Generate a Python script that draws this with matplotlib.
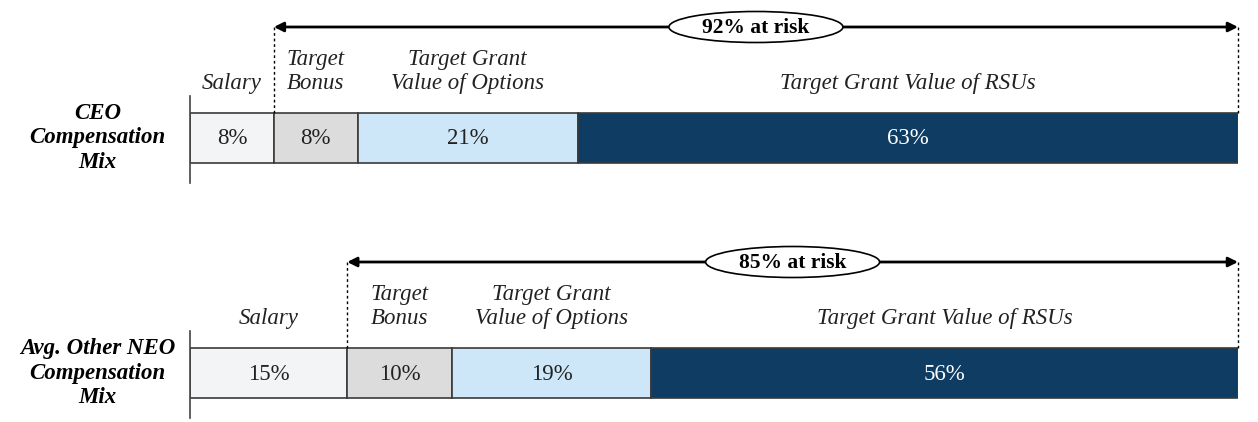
import numpy as np
import matplotlib.pyplot as plt
from matplotlib.patches import Ellipse

plt.rcParams['font.family'] = ['Liberation Serif', 'DejaVu Serif']

# data
rows = ['CEO\nCompensation\nMix', 'Avg. Other NEO\nCompensation\nMix']
components = ['Salary', 'Target\nBonus', 'Target Grant\nValue of Options', 'Target Grant Value of RSUs']
ceo_mix = [8, 8, 21, 63]
neo_mix = [15, 10, 19, 56]
at_risk = [92, 85]

colors = ['#f3f4f6', '#dcdcdd', '#cde7f8', '#0f3c63']
text_colors = ['#222222', '#222222', '#222222', 'white']

fig = plt.figure(figsize=(12.58, 4.22), dpi=100)
ax = fig.add_axes([190 / 1258, 0, 1048 / 1258, 1])
ax.set_xlim(0, 100)
ax.set_ylim(422, 0)  # pixel-like vertical layout
ax.axis('off')

bar_y = [138, 373]
bar_h = 50

for r, vals in enumerate([ceo_mix, neo_mix]):
    y = bar_y[r]
    lefts = np.concatenate([[0], np.cumsum(vals)[:-1]])
    ax.barh(y, vals, left=lefts, height=bar_h, color=colors,
            edgecolor='#3a3a3a', linewidth=1.2)
    for i, v in enumerate(vals):
        cx = lefts[i] + v / 2
        ax.text(cx, y + 1, f'{v}%', ha='center', va='center',
                fontsize=16.5, color=text_colors[i])
        ax.text(cx, y - bar_h / 2 - 19, components[i], ha='center', va='bottom',
                fontsize=16.5, style='italic', color='#222222', linespacing=1.2)
    # axis line on the left
    ax.plot([0, 0], [y - 42, y + 45], color='#444444', lw=1.2, clip_on=False)
    # row label
    ax.text(-8.8, y, rows[r], ha='center', va='center', fontsize=16.5,
            fontweight='bold', style='italic', linespacing=1.2)

    # at risk arrow
    ay = y - 111
    start = vals[0]
    ax.annotate('', xy=(100, ay), xytext=(start, ay),
                arrowprops=dict(arrowstyle='<|-|>', lw=2, color='black',
                                mutation_scale=14, shrinkA=0, shrinkB=0))
    for xv in [start, 100]:
        ax.plot([xv, xv], [ay, y - bar_h / 2], color='black', lw=1,
                ls=(0, (2, 2)), clip_on=False)
    mid = start + (100 - start) / 2
    ell = Ellipse((mid, ay), width=16.6, height=31, facecolor='white',
                  edgecolor='black', lw=1.2, zorder=5)
    ax.add_patch(ell)
    ax.text(mid, ay + 1, f'{at_risk[r]}% at risk', ha='center', va='center',
            fontsize=15.5, fontweight='bold', zorder=6)

fig.savefig('out.png', dpi=100)
